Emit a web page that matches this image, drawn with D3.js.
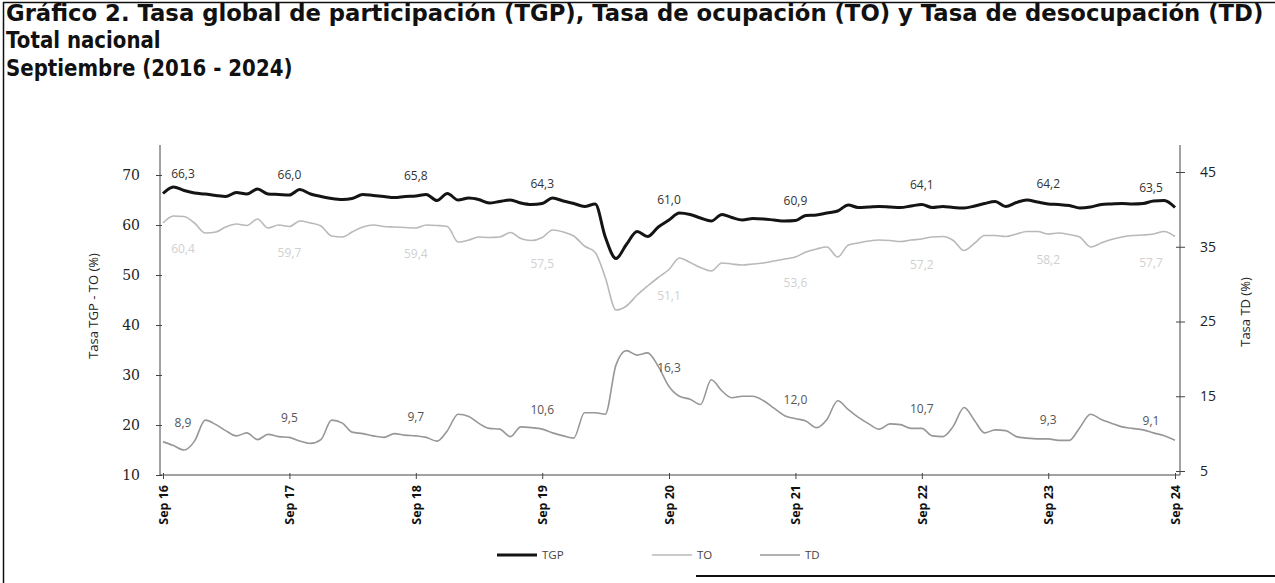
<!DOCTYPE html>
<html><head><meta charset="utf-8">
<script src="https://cdn.jsdelivr.net/npm/d3@7/dist/d3.min.js"></script>
<style>body{margin:0;background:#fff;} svg{display:block;font-family:"Open Sans",sans-serif;}</style>
</head><body>
<svg id="c" width="1275" height="583"></svg>
<script>
// ---- DATA ----
const titleLines = ["Gráfico 2. Tasa global de participación (TGP), Tasa de ocupación (TO) y Tasa de desocupación (TD)", "Total nacional", "Septiembre (2016 - 2024)"];
const tickLabels = ["Sep 16","Sep 17","Sep 18","Sep 19","Sep 20","Sep 21","Sep 22","Sep 23","Sep 24"];
const leftTicks = [10,20,30,40,50,60,70];
const rightTicks = [5,15,25,35,45];
const seriesNames = ["TGP","TO","TD"];
const tgp = [
66.3,67.6,66.9,66.4,66.2,65.9,65.7,66.5,66.2,67.2,66.2,66.1,
66.0,67.1,66.2,65.7,65.3,65.1,65.3,66.1,65.9,65.7,65.5,65.7,
65.8,66.1,64.9,66.3,65.0,65.4,65.1,64.4,64.7,65.0,64.4,64.1,
64.3,65.4,64.8,64.3,63.7,64.2,57.6,53.3,56.1,58.7,57.7,59.6,
61.0,62.4,62.1,61.4,60.8,62.1,61.5,61.0,61.3,61.2,61.0,60.8,
60.9,61.9,62.0,62.4,62.8,64.0,63.5,63.6,63.7,63.6,63.5,63.8,
64.1,63.5,63.7,63.5,63.4,63.8,64.3,64.7,63.7,64.5,65.0,64.6,
64.2,64.1,63.9,63.4,63.6,64.1,64.2,64.3,64.2,64.3,64.8,64.9,
63.5];
const to = [
60.4,61.8,61.7,60.4,58.4,58.6,59.6,60.2,59.9,61.2,59.4,60.0,
59.7,60.8,60.4,59.8,57.8,57.6,58.6,59.6,60.0,59.7,59.6,59.5,
59.4,60.0,59.9,59.7,56.6,57.0,57.6,57.5,57.6,58.5,57.3,56.9,
57.5,59.0,58.6,57.8,55.8,54.5,49.5,43.0,43.8,46.0,47.8,49.5,
51.1,53.4,52.5,51.5,50.8,52.4,52.2,52.0,52.2,52.4,52.8,53.2,
53.6,54.6,55.2,55.6,53.6,56.0,56.4,56.8,57.0,56.9,56.7,57.0,
57.2,57.6,57.7,56.9,54.9,56.4,57.9,57.9,57.7,58.2,58.7,58.7,
58.2,58.4,58.1,57.6,55.6,56.4,57.1,57.6,57.9,58.0,58.2,58.7,
57.7];
const td = [
8.9,8.4,7.8,9.0,11.8,11.2,10.4,9.7,10.1,9.2,9.9,9.6,
9.5,9.0,8.7,9.2,11.8,11.4,10.2,10.0,9.7,9.5,10.0,9.8,
9.7,9.5,9.0,10.4,12.6,12.3,11.4,10.7,10.6,9.6,10.9,10.8,
10.6,10.1,9.7,9.4,12.8,12.8,12.6,19.2,21.1,20.5,20.8,19.0,
16.3,15.0,14.6,13.9,17.2,15.7,14.8,15.0,15.0,14.4,13.4,12.4,
12.0,11.7,10.8,11.9,14.4,13.2,12.2,11.3,10.6,11.3,11.2,10.7,
10.7,9.7,9.6,11.0,13.5,11.7,10.1,10.5,10.4,9.6,9.4,9.3,
9.3,9.1,9.1,10.8,12.6,11.9,11.4,10.9,10.7,10.5,10.1,9.7,
9.1];
const months = d3.timeMonth.range(new Date(2016,8,1), new Date(2024,9,1)); // Sep 2016 .. Sep 2024

// ---- CHART ----
const svg = d3.select("#c");
const fmt = v => d3.format(".1f")(v).replace(".", ",");
const FONT = "'Open Sans', sans-serif";

// frame
svg.append("line").attr("x1",3).attr("x2",1275).attr("y1",2.5).attr("y2",2.5).attr("stroke","#111").attr("stroke-width",1.5);
svg.append("line").attr("x1",3.5).attr("x2",3.5).attr("y1",2).attr("y2",583).attr("stroke","#111").attr("stroke-width",1.5);
svg.append("line").attr("x1",696).attr("x2",1275).attr("y1",576).attr("y2",576).attr("stroke","#111").attr("stroke-width",2);

// title
const tBase = [21, 48, 76];
const titleG = svg.append("g").attr("font-family","'DejaVu Sans', sans-serif").attr("font-weight",700).attr("fill","#111");
const t0 = titleG.append("text").attr("x",6).attr("y",tBase[0]).attr("font-size",18).text(titleLines[0]);
const fsT = 18*1258/t0.node().getComputedTextLength();
t0.attr("font-size",fsT);
titleLines.slice(1).forEach((t,i)=>{
  const el = titleG.append("text").attr("x",6).attr("y",tBase[i+1]).attr("font-size",fsT).text(t);
  const w = el.node().getComputedTextLength();
  el.attr("textLength", w*0.87).attr("lengthAdjust","spacingAndGlyphs");
});

const x = d3.scaleTime().domain([months[0], months[months.length-1]]).range([163,1175]);
const yL = d3.scaleLinear().domain([10,70]).range([475,175]);
const yR = d3.scaleLinear().domain([5,45]).range([471,172]);
const yTop = 145, yBot = 475, xLeft = 160, xRight = 1180;

// axes lines
const axisCol = "#444";
svg.append("line").attr("x1",xLeft).attr("x2",xLeft).attr("y1",yTop).attr("y2",yBot).attr("stroke",axisCol);
svg.append("line").attr("x1",xRight).attr("x2",xRight).attr("y1",yTop).attr("y2",yBot).attr("stroke",axisCol);
svg.append("line").attr("x1",xLeft).attr("x2",xRight).attr("y1",yBot).attr("y2",yBot).attr("stroke",axisCol);

const gL = svg.append("g").attr("transform",`translate(${xLeft},0)`)
  .call(d3.axisLeft(yL).tickValues(leftTicks).tickSize(4).tickPadding(16).tickSizeOuter(0));
gL.select(".domain").remove();
gL.selectAll(".tick line").attr("stroke",axisCol).attr("x2",-4).attr("x1",2);
gL.selectAll(".tick text").attr("font-size",14).attr("fill","#222").attr("font-family","'DejaVu Serif',serif");

const gR = svg.append("g").attr("transform",`translate(${xRight},0)`)
  .call(d3.axisRight(yR).tickValues(rightTicks).tickSize(4).tickPadding(16).tickSizeOuter(0));
gR.select(".domain").remove();
gR.attr("font-family",FONT);
gR.selectAll(".tick line").attr("stroke",axisCol).attr("x1",-4).attr("x2",5);
gR.selectAll(".tick text").attr("font-size",14).attr("fill","#222");

const yearDates = tickLabels.map((_,i)=>months[i*12]);
const gX = svg.append("g").attr("transform",`translate(0,${yBot})`)
  .call(d3.axisBottom(x).tickValues(yearDates).tickFormat((d,i)=>tickLabels[i]).tickSize(4).tickSizeOuter(0));
gX.select(".domain").remove();
gX.attr("font-family",FONT);
gX.selectAll(".tick line").attr("stroke",axisCol).attr("y1",-2);
gX.selectAll(".tick text").attr("font-size",12.5).attr("font-weight",700).attr("fill","#111")
  .attr("text-anchor","end").attr("transform","rotate(-90)").attr("x",-10).attr("y",0).attr("dy","0.35em");

// axis titles
svg.append("text").attr("transform","translate(98,306) rotate(-90)").attr("text-anchor","middle")
  .attr("font-size",13).attr("fill","#222").text("Tasa TGP - TO (%)");
svg.append("text").attr("transform","translate(1250,312) rotate(-90)").attr("text-anchor","middle")
  .attr("font-size",13).attr("fill","#222").text("Tasa TD (%)");

// lines
const styles = {
  TGP:{data:tgp, y:yL, color:"#141414", w:3},
  TO:{data:to, y:yL, color:"#b9b9b9", w:1.6},
  TD:{data:td, y:yR, color:"#979797", w:1.6}
};
["TO","TD","TGP"].forEach(k=>{
  const s = styles[k];
  const line = d3.line().x((d,i)=>x(months[i])).y(d=>s.y(d)).curve(d3.curveMonotoneX);
  svg.append("path").datum(s.data).attr("d",line).attr("fill","none")
    .attr("stroke",s.color).attr("stroke-width",s.w).attr("stroke-linejoin","round");
});

// data labels at each September
const lblDx = i => i===0 ? 20 : (i===tickLabels.length-1 ? -24 : 0);
tickLabels.forEach((_,k)=>{
  const idx = k*12, xx = x(months[idx]) + lblDx(k);
  svg.append("text").attr("x",xx).attr("y",yL(tgp[idx])-16).attr("text-anchor","middle")
    .attr("font-size",12).attr("fill","#333").text(fmt(tgp[idx]));
  svg.append("text").attr("x",xx).attr("y",yL(to[idx])+30).attr("text-anchor","middle")
    .attr("font-size",12).attr("fill","#d0d0d0").text(fmt(to[idx]));
  svg.append("text").attr("x",xx).attr("y",yR(td[idx])-15).attr("text-anchor","middle")
    .attr("font-size",12).attr("fill","#555").text(fmt(td[idx]));
});

// legend
const leg = [
  {n:seriesNames[0], s:styles.TGP, x:497},
  {n:seriesNames[1], s:styles.TO, x:652},
  {n:seriesNames[2], s:styles.TD, x:760}
];
leg.forEach(l=>{
  svg.append("line").attr("x1",l.x).attr("x2",l.x+40).attr("y1",555).attr("y2",555)
    .attr("stroke",l.s.color).attr("stroke-width",l.s.w);
  svg.append("text").attr("x",l.x+45).attr("y",559).attr("font-size",11.5).attr("fill","#444").text(l.n);
});
</script>
</body></html>
